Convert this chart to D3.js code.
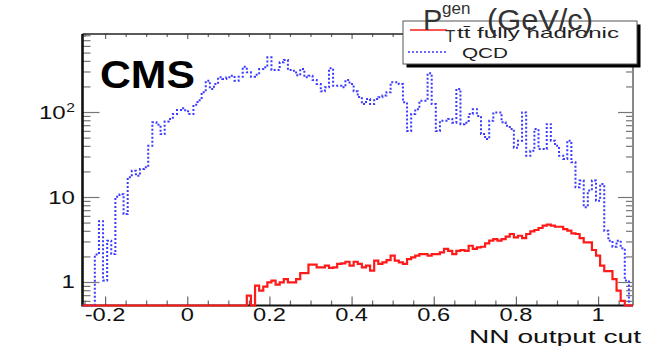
<!DOCTYPE html>
<html>
<head>
<meta charset="utf-8">
<script src="https://cdn.jsdelivr.net/npm/d3@7"></script>
<style>
  body { margin: 0; background: #fff; }
  svg { display: block; font-family: "Liberation Sans", Arial, sans-serif; }
</style>
</head>
<body>
<div id="chart"></div>
<script>
// histogram binning (NN output), 134 bins of 0.01
const binLow = -0.255;
const binWidth = 0.01;

// QCD counts per bin
const qcdCounts = [
  0, 0, 0, 2.1, 5.2, 1.04, 3.06, 2.13, 10.1, 10.8,
  6.3, 17.1, 20.4, 17.8, 21.4, 22.4, 40.1, 75.7, 71, 55,
  77.6, 82.7, 94.7, 105.6, 111, 102, 95, 122, 138, 171,
  233, 187, 213, 256, 245, 256, 267, 233, 260, 341,
  293, 260, 275, 320, 336, 440, 312, 312, 384, 409,
  312, 306, 270, 320, 256, 267, 238, 213, 175, 195,
  327, 204, 204, 195, 238, 213, 175, 150, 124, 142,
  124, 142, 149, 156, 171, 224, 224, 213, 130, 60,
  95, 108, 136, 136, 285, 124, 60, 79, 79, 83,
  75, 187, 72, 75, 95, 108, 90, 55, 48, 79,
  99, 99, 76, 69, 63, 38, 46, 99, 30.6, 35,
  63, 36.7, 36.7, 72, 46, 40, 30.6, 28, 46, 25.6,
  13, 15.6, 7.6, 11.9, 15.6, 9.05, 14.2, 4.0, 3.06, 2.6,
  3.06, 2.5, 1.04, 0
];

// ttbar fully hadronic counts per bin
const ttbarCounts = [
  0, 0, 0, 0, 0, 0, 0, 0, 0, 0,
  0, 0, 0, 0, 0, 0, 0, 0, 0, 0,
  0, 0, 0, 0, 0, 0, 0, 0, 0, 0,
  0, 0, 0, 0, 0, 0, 0, 0, 0, 0,
  0.69, 0, 0.905, 0.79, 0.88, 0.99, 1.04, 0.93, 0.99, 1.08,
  0.99, 0.99, 1.08, 1.27, 1.27, 1.6, 1.6, 1.49, 1.49, 1.56,
  1.47, 1.49, 1.63, 1.66, 1.73, 1.56, 1.73, 1.63, 1.49, 1.56,
  1.36, 1.78, 1.63, 1.70, 1.81, 2.04, 1.78, 1.70, 1.63, 1.86,
  1.95, 2.04, 2.13, 2.13, 2.04, 2.13, 2.13, 2.23, 2.45, 2.33,
  2.13, 2.33, 2.38, 2.33, 2.67, 2.45, 2.56, 2.6, 2.85, 3.06,
  3.2, 3.06, 3.2, 3.41, 3.67, 3.35, 3.5, 3.29, 3.67, 3.95,
  4.09, 4.32, 4.6, 4.73, 4.6, 4.47, 4.47, 4.2, 4.02, 3.74,
  3.67, 3.29, 2.93, 2.93, 2.38, 2.04, 1.56, 1.34, 1.34, 1.08,
  0.79, 0.60, 0, 0
];

const xTickValues = [-0.2, 0, 0.2, 0.4, 0.6, 0.8, 1];
const xTickLabels = ['-0.2', '0', '0.2', '0.4', '0.6', '0.8', '1'];
const yTickValues = [1, 10, 100];
const yTickLabels = [['1', ''], ['10', ''], ['10', '2']];

const width = 648;
const height = 346;
const frameLeft = 82.5, frameRight = 633, frameTop = 34, frameBottom = 305.5;
const yMin = 0.529, yMax = 828;

const svg = d3.select('#chart').append('svg')
    .attr('width', width)
    .attr('height', height);

const x = d3.scaleLinear().domain([binLow, binLow + qcdCounts.length * binWidth]).range([frameLeft, frameRight]);
const y = d3.scaleLog().domain([yMin, yMax]).range([frameBottom, frameTop]);

// minor tick positions
const xMinor = d3.range(-0.25, 1.06, 0.05).filter(v => !xTickValues.some(t => Math.abs(t - v) < 1e-6));
const yMinor = [];
[0.1, 1, 10, 100].forEach(d => {
    for (let k = 2; k <= 9; k++) {
        const v = d * k;
        if (v > yMin && v < yMax) yMinor.push(v);
    }
});

function ticks(axis, values, size, tx, ty, color) {
    svg.append('g')
        .attr('transform', 'translate(' + tx + ',' + ty + ')')
        .call(axis.tickValues(values).tickSize(size).tickFormat(''))
        .call(g => g.select('.domain').remove())
        .call(g => g.selectAll('line').attr('stroke', color).attr('stroke-width', 1.2));
}

// bottom ticks (pointing up)
ticks(d3.axisTop(x), xTickValues, 9, 0, frameBottom, '#666');
ticks(d3.axisTop(x), xMinor, 5, 0, frameBottom, '#666');
// top ticks (pointing down)
ticks(d3.axisBottom(x), xTickValues, 5, 0, frameTop, '#666');
ticks(d3.axisBottom(x), xMinor, 3, 0, frameTop, '#666');
// left ticks (pointing right)
ticks(d3.axisRight(y), yTickValues, 17, frameLeft, 0, '#777');
ticks(d3.axisRight(y), yMinor, 8, frameLeft, 0, '#777');
// right ticks (pointing left)
ticks(d3.axisLeft(y), yTickValues, 15, frameRight, 0, '#777');
ticks(d3.axisLeft(y), yMinor, 7, frameRight, 0, '#777');

// frame
svg.append('line').attr('x1', frameLeft).attr('x2', frameRight).attr('y1', frameTop).attr('y2', frameTop)
    .attr('stroke', '#222').attr('stroke-width', 1.3);
svg.append('line').attr('x1', frameRight).attr('x2', frameRight).attr('y1', frameTop).attr('y2', frameBottom)
    .attr('stroke', '#888').attr('stroke-width', 2);
svg.append('line').attr('x1', frameLeft).attr('x2', frameLeft).attr('y1', frameTop).attr('y2', frameBottom + 1)
    .attr('stroke', '#111').attr('stroke-width', 2.6);
svg.append('line').attr('x1', frameLeft).attr('x2', frameRight).attr('y1', frameBottom).attr('y2', frameBottom)
    .attr('stroke', '#111').attr('stroke-width', 2.2);

// step histograms
function histPath(counts) {
    const pts = counts.map((c, i) => [binLow + i * binWidth, c]);
    pts.push([binLow + counts.length * binWidth, counts[counts.length - 1]]);
    return d3.line()
        .x(d => x(d[0]))
        .y(d => y(Math.max(d[1], yMin)))
        .curve(d3.curveStepAfter)(pts);
}

svg.append('path')
    .attr('d', histPath(qcdCounts))
    .attr('fill', 'none')
    .attr('stroke', '#3a3aff')
    .attr('stroke-width', 2)
    .attr('stroke-dasharray', '2,2');

svg.append('path')
    .attr('d', histPath(ttbarCounts))
    .attr('fill', 'none')
    .attr('stroke', '#ff1a1a')
    .attr('stroke-width', 2.2);

// tick labels, the picture is stretched sideways
function wideText(str, px, py, size, anchor, sx) {
    return svg.append('text')
        .attr('transform', 'translate(' + px + ',' + py + ') scale(' + sx + ',1)')
        .attr('text-anchor', anchor)
        .style('font-size', size + 'px')
        .attr('fill', '#111')
        .text(str);
}

xTickValues.forEach((v, i) => {
    wideText(xTickLabels[i], x(v), 321, 18.5, 'middle', 1.28);
});

yTickValues.forEach((v, i) => {
    const t = svg.append('text')
        .attr('transform', 'translate(75,' + (y(v) + 6.5) + ') scale(1.3,1)')
        .attr('text-anchor', 'end')
        .attr('fill', '#111')
        .style('font-size', '18.5px');
    t.append('tspan').text(yTickLabels[i][0]);
    if (yTickLabels[i][1]) {
        t.append('tspan').attr('dy', -7).attr('dx', 0.5).style('font-size', '12px').text(yTickLabels[i][1]);
    }
});

svg.append('text')
    .attr('x', 469).attr('y', 342.5)
    .attr('textLength', 172).attr('lengthAdjust', 'spacingAndGlyphs')
    .style('font-size', '18.5px')
    .attr('fill', '#111')
    .text('NN output cut');

// CMS label
svg.append('text')
    .attr('x', 100).attr('y', 88)
    .attr('textLength', 95).attr('lengthAdjust', 'spacingAndGlyphs')
    .style('font-size', '39px')
    .style('font-weight', 'bold')
    .text('CMS');

// legend
svg.append('rect')
    .attr('x', 406.5).attr('y', 24.5).attr('width', 234).attr('height', 43)
    .attr('fill', '#000');
svg.append('rect')
    .attr('x', 403).attr('y', 21).attr('width', 234).attr('height', 43)
    .attr('fill', '#fff').attr('stroke', '#555').attr('stroke-width', 1);

svg.append('line').attr('x1', 410).attr('x2', 447).attr('y1', 30).attr('y2', 30)
    .attr('stroke', '#ff1a1a').attr('stroke-width', 1.6);
svg.append('line').attr('x1', 408).attr('x2', 447).attr('y1', 52).attr('y2', 52)
    .attr('stroke', '#3a3aff').attr('stroke-width', 1.6).attr('stroke-dasharray', '2,2');

svg.append('text')
    .attr('x', 457).attr('y', 38)
    .attr('textLength', 162).attr('lengthAdjust', 'spacingAndGlyphs')
    .style('font-size', '14.5px')
    .attr('fill', '#222')
    .text('tt\u0304 fully hadronic');
svg.append('text')
    .attr('x', 462).attr('y', 57.5)
    .attr('textLength', 46).attr('lengthAdjust', 'spacingAndGlyphs')
    .style('font-size', '15px')
    .attr('fill', '#222')
    .text('QCD');

// x title drawn last, it runs over the legend
const title = svg.append('g').attr('fill', '#333');
title.append('text').attr('x', 423).attr('y', 30).style('font-size', '29px').text('P');
title.append('text').attr('x', 442).attr('y', 14).style('font-size', '17px').text('gen');
title.append('text').attr('x', 445).attr('y', 42).style('font-size', '17px').text('T');
title.append('text').attr('x', 487).attr('y', 30)
    .attr('textLength', 106).attr('lengthAdjust', 'spacingAndGlyphs')
    .style('font-size', '29px').text('(GeV/c)');
</script>
</body>
</html>
